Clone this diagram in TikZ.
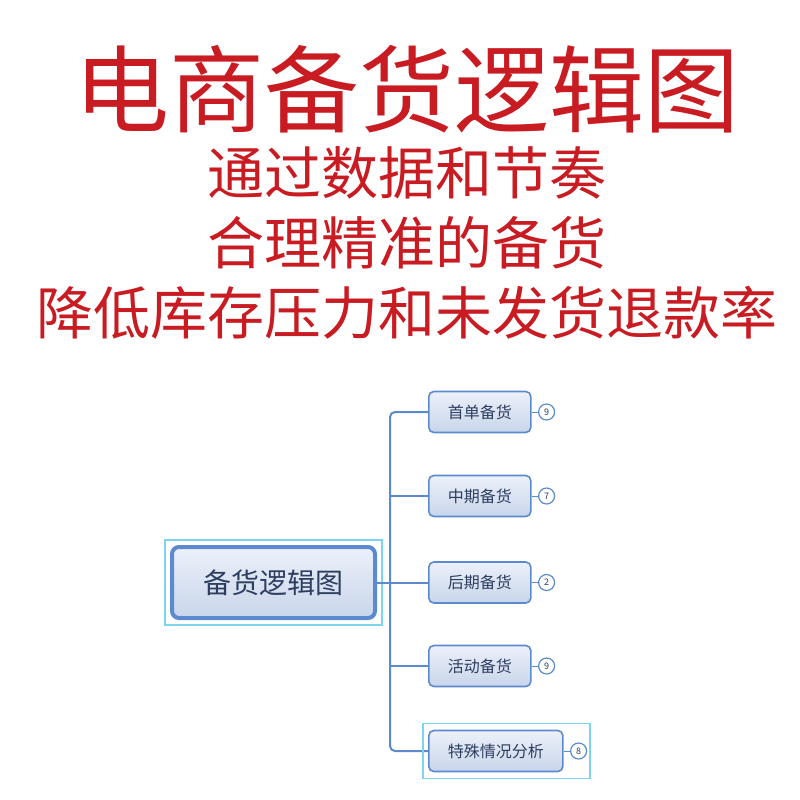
\documentclass[tikz,border=0pt]{standalone}
\usepackage{fontspec}
\setmainfont{Noto Sans CJK SC}
\usepackage{xcolor}
\usepackage{tikz}
\usetikzlibrary{calc}

\definecolor{titlered}{RGB}{200,28,34}
\definecolor{mapblue}{RGB}{92,138,206}
\definecolor{boxtop}{RGB}{236,241,250}
\definecolor{boxbot}{RGB}{200,213,234}
\definecolor{maptext}{RGB}{45,62,95}
\definecolor{selcyan}{RGB}{125,212,240}

\begin{document}
\begin{tikzpicture}[x=1pt,y=1pt,
    titletext/.style={text=titlered, inner sep=0pt},
    rootbox/.style={draw=mapblue, line width=4pt, rounded corners=7pt,
        top color=boxtop, bottom color=boxbot, minimum width=203pt,
        minimum height=71pt, text=maptext, font=\fontsize{28}{30}\selectfont},
    topicbox/.style={draw=mapblue, line width=1.6pt, rounded corners=5pt,
        top color=boxtop, bottom color=boxbot, minimum height=41pt,
        inner xsep=19pt, anchor=west, text=maptext,
        font=\fontsize{16}{18}\selectfont},
    badge/.style={circle, draw=mapblue, fill=white, line width=1.2pt,
        minimum size=16pt, inner sep=0pt, text=maptext,
        font=\fontsize{9}{9}\selectfont},
    branch/.style={draw=mapblue, line width=2pt, rounded corners=5pt},
    selbox/.style={draw=selcyan, line width=1.5pt}]
                \useasboundingbox (0,0) rectangle (800,-800);
                % heading
                \node[titletext, font=\fontsize{95}{98}\selectfont] (head) at (407,-89) {电商备货逻辑图};
                \node[titletext, font=\fontsize{57}{60}\selectfont] (line1) at (407,-173) {通过数据和节奏};
                \node[titletext, font=\fontsize{57}{60}\selectfont] (line2) at (407,-243) {合理精准的备货};
                \node[titletext, font=\fontsize{57}{60}\selectfont] (line3) at (407,-313) {降低库存压力和未发货退款率};
                % map
                \node[rootbox] (root) at (273.5,-582.5) {备货逻辑图};
                \draw[selbox] ($(root.south west)+(-5,-5)$) rectangle ($(root.north east)+(5,5)$);
                \coordinate (hub) at (390,-582.5);
                \node[topicbox] (first) at (428,-412) {首单备货};
                \node[topicbox] (middle) at (428,-496) {中期备货};
                \node[topicbox] (late) at (428,-582.5) {后期备货};
                \node[topicbox] (promo) at (428,-666) {活动备货};
                \node[topicbox] (special) at (428,-751) {特殊情况分析};
                \foreach \t/\n in {first/9,middle/7,late/2,promo/9,special/8}{
                    \node[badge] (\t-n) at ($(\t.east)+(15,0)$) {\n};
                    \draw[mapblue, line width=1pt] (\t.east) -- (\t-n);
                }
                % branches
                \draw[branch] (root.east) -- (late.west);
                \draw[branch] (hub) |- (first.west);
                \draw[branch] (hub) |- (special.west);
                \draw[branch] (hub |- middle.west) -- (middle.west);
                \draw[branch] (hub |- promo.west) -- (promo.west);
                \draw[selbox] ($(special.south west)+(-5,-6)$) rectangle ($(special-n.east |- special.north)+(3,6)$);
            \end{tikzpicture}
\end{document}
